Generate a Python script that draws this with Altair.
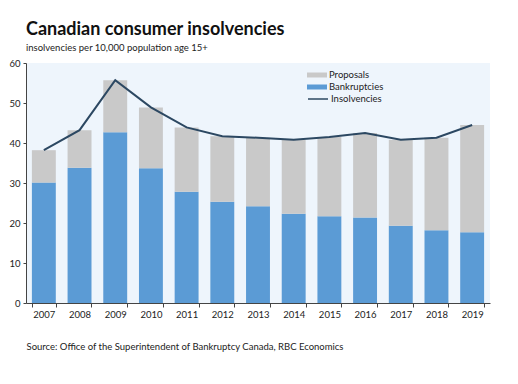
import altair as alt
import pandas as pd

years = ["2007", "2008", "2009", "2010", "2011", "2012", "2013",
         "2014", "2015", "2016", "2017", "2018", "2019"]
bankruptcies = [30.1, 33.8, 42.7, 33.7, 27.8, 25.3, 24.2, 22.3, 21.7, 21.4, 19.3, 18.2, 17.7]
insolvencies = [38.2, 43.2, 55.7, 48.9, 43.9, 41.7, 41.3, 40.8, 41.5, 42.5, 40.8, 41.3, 44.5]
proposals = [round(t - b, 1) for t, b in zip(insolvencies, bankruptcies)]

bar_series = ["Proposals", "Bankruptcies"]
bar_colors = ["#c9c9c9", "#5b9bd5"]
line_color = "#2c4862"

rows = []
for y, b, p in zip(years, bankruptcies, proposals):
    rows.append({"year": y, "series": "Bankruptcies", "value": b, "ord": 0})
    rows.append({"year": y, "series": "Proposals", "value": p, "ord": 1})
bars_df = pd.DataFrame(rows)
line_df = pd.DataFrame({"year": years, "value": insolvencies, "series": ["Insolvencies"] * len(years)})

FONT = "Lato"

x_enc = alt.X(
    "year:N",
    scale=alt.Scale(paddingInner=0.33, paddingOuter=0.165),
    axis=alt.Axis(
        labelAngle=0, tickBand="extent", tickSize=4, labelPadding=2,
        labelFontSize=9.5, labelFont=FONT, labelColor="#222",
        domainColor="#444", tickColor="#444",
        title="Source: Office of the Superintendent of Bankruptcy Canada, RBC Economics",
        titleAnchor="start", titleAlign="left", titleFontWeight="normal",
        titleFontSize=9.5, titleFont=FONT, titleColor="#222", titlePadding=23,
    ),
)

y_enc = alt.Y(
    "value:Q", stack="zero",
    scale=alt.Scale(domain=[0, 60], nice=False),
    axis=alt.Axis(
        values=[0, 10, 20, 30, 40, 50, 60], grid=False, title=None, labelOverlap=False,
        tickSize=3, labelPadding=3, labelFontSize=9.5, labelFont=FONT,
        labelColor="#222", domainColor="#444", tickColor="#444",
    ),
)

bars = alt.Chart(bars_df).mark_bar().encode(
    x=x_enc,
    y=y_enc,
    color=alt.Color(
        "series:N",
        scale=alt.Scale(domain=bar_series, range=bar_colors),
        legend=alt.Legend(
            title=None, orient="none", legendX=281, legendY=6,
            symbolType="M-1,-0.25H1V0.25H-1Z", symbolSize=400, clipHeight=12,
            symbolStrokeWidth=0, labelFontSize=9.5, labelFont=FONT,
            labelColor="#222", rowPadding=0, labelOffset=2,
        ),
    ),
    order=alt.Order("ord:Q"),
)

line = alt.Chart(line_df).mark_line(strokeWidth=2).encode(
    x=x_enc,
    y=y_enc,
    stroke=alt.Stroke(
        "series:N",
        scale=alt.Scale(domain=["Insolvencies"], range=[line_color]),
        legend=alt.Legend(
            title=None, orient="none", legendX=281, legendY=30,
            symbolType="stroke", symbolSize=400, symbolStrokeWidth=1.5, clipHeight=12,
            labelFontSize=9.5, labelFont=FONT, labelColor="#222", labelOffset=2,
        ),
    ),
)

chart = alt.layer(bars, line).resolve_scale(color="independent").properties(
    width=464,
    height=240,
    padding={"left": 0, "top": 12, "right": 10, "bottom": 5},
    title=alt.TitleParams(
        "Canadian consumer insolvencies",
        subtitle="insolvencies per 10,000 population age 15+",
        anchor="start", frame="group", font=FONT, fontSize=18, fontWeight="bold", color="#111",
        subtitleFont=FONT, subtitleFontSize=9.5, subtitleColor="#222",
        subtitlePadding=4, offset=6,
    ),
).configure_view(fill="#eef5fc", stroke=None)

chart.save("out.html", embed_options={"renderer": "svg", "actions": False})
